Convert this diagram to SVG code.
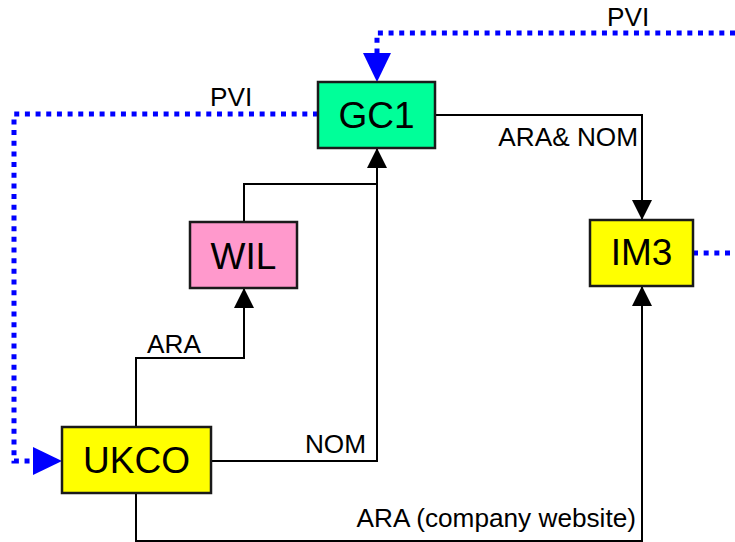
<svg xmlns="http://www.w3.org/2000/svg" width="735" height="542" viewBox="0 0 735 542">
<style>
.node rect{stroke:#1a1a1a;stroke-width:2.5}
.nl{font-family:"Liberation Sans",Arial,sans-serif;font-size:37px;fill:#000;text-anchor:middle}
.el{font-family:"Liberation Sans",Arial,sans-serif;font-size:26.2px;fill:#000}
.ln{fill:none;stroke:#000;stroke-width:2}
.pvi{fill:none;stroke:#0000ff;stroke-width:5;stroke-dasharray:5 5.67}
</style>
<defs>
<marker id="ab" markerUnits="userSpaceOnUse" markerWidth="20" markerHeight="20" refX="20" refY="10" orient="auto" viewBox="0 0 20 20">
<path d="M0,0 L20,10 L0,20 z" fill="#000"/>
</marker>
<marker id="bb" markerUnits="userSpaceOnUse" markerWidth="29" markerHeight="28" refX="29" refY="14" orient="auto" viewBox="0 0 29 28">
<path d="M0,0 L29,14 L0,28 z" fill="#0000ff"/>
</marker>
</defs>
<g id="connectors">
<path class="ln" d="M435,115 H642 V220" marker-end="url(#ab)"/>
<path class="ln" d="M136,427 V358 H244 V288" marker-end="url(#ab)"/>
<path class="ln" d="M244,222 V184 H377"/>
<path class="ln" d="M211,461 H377 V148" marker-end="url(#ab)"/>
<path class="ln" d="M136,493 V541 H642 V286" marker-end="url(#ab)"/>
<path class="pvi" d="M318,114 H14 V461 H33"/>
<path d="M33,461 H62" stroke="none" marker-end="url(#bb)"/>
<path class="pvi" d="M735,33 H377 V53"/>
<path d="M377,53 V82" stroke="none" marker-end="url(#bb)"/>
<path class="pvi" d="M693,253 H735"/>
<text class="el" x="607" y="26">PVI</text>
<text class="el" x="210" y="106">PVI</text>
<text class="el" x="638" y="146" text-anchor="end">ARA&amp; NOM</text>
<text class="el" x="147" y="353">ARA</text>
<text class="el" x="366" y="453" text-anchor="end">NOM</text>
<text class="el" x="636" y="527" text-anchor="end">ARA (company website)</text>
</g>
<g id="GC1" class="node">
<rect x="318" y="82" width="117" height="66" fill="#00ff99"/>
<text class="nl" x="376.5" y="128">GC1</text>
</g>
<g id="WIL" class="node">
<rect x="190" y="222" width="107" height="66" fill="#ff99cc"/>
<text class="nl" x="243.5" y="269">WIL</text>
</g>
<g id="IM3" class="node">
<rect x="590" y="220" width="103" height="66" fill="#ffff00"/>
<text class="nl" x="641.5" y="265">IM3</text>
</g>
<g id="UKCO" class="node">
<rect x="62" y="427" width="149" height="66" fill="#ffff00"/>
<text class="nl" x="136.5" y="473">UKCO</text>
</g>
</svg>
